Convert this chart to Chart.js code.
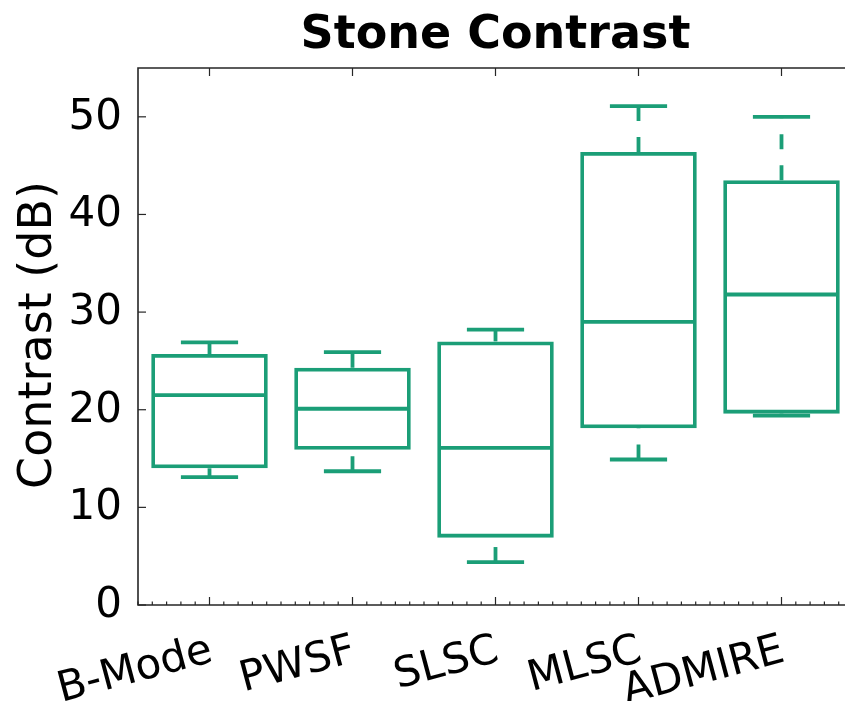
<!DOCTYPE html>
<html>
<head>
<meta charset="utf-8">
<script src="https://cdn.jsdelivr.net/npm/chart.js@4.4.0/dist/chart.umd.min.js"></script>
<style>
html, body { margin: 0; padding: 0; background: #fff; overflow: hidden; }
</style>
</head>
<body>
<canvas id="chartBox" width="860" height="701"></canvas>
<script>
// box plot values
const categories = ['B-Mode', 'PWSF', 'SLSC', 'MLSC', 'ADMIRE'];
const whiskerLow = [13.1, 13.7, 4.4, 14.9, 19.4];
const quart1 = [14.0, 15.9, 6.9, 18.1, 19.6];
const medians = [21.5, 20.1, 16.1, 29.0, 31.8];
const quart3 = [25.7, 24.3, 27.0, 46.4, 43.5];
const whiskerHigh = [26.9, 25.9, 28.2, 51.1, 50.0];
const yTicks = [0, 10, 20, 30, 40, 50];

const teal = '#1b9e77';
const axisColor = '#262626';

// medians, whiskers and caps on top of the floating bars
const boxExtras = {
    id: 'boxExtras',
    afterDatasetsDraw(chart) {
        const ctx = chart.ctx;
        const x = chart.scales.x;
        const y = chart.scales.y;
        const step = x.getPixelForValue(1) - x.getPixelForValue(0);
        ctx.save();
        ctx.strokeStyle = teal;
        ctx.lineWidth = 3.8;
        categories.forEach((c, i) => {
            const cx = x.getPixelForValue(i);
            // median
            ctx.setLineDash([]);
            ctx.beginPath();
            ctx.moveTo(cx - step * 0.4, y.getPixelForValue(medians[i]));
            ctx.lineTo(cx + step * 0.4, y.getPixelForValue(medians[i]));
            ctx.stroke();
            // caps
            [whiskerLow[i], whiskerHigh[i]].forEach(v => {
                ctx.beginPath();
                ctx.moveTo(cx - step * 0.2, y.getPixelForValue(v));
                ctx.lineTo(cx + step * 0.2, y.getPixelForValue(v));
                ctx.stroke();
            });
            // whiskers, dashed, drawn bottom to top
            ctx.setLineDash([15, 16]);
            ctx.beginPath();
            ctx.moveTo(cx, y.getPixelForValue(whiskerLow[i]));
            ctx.lineTo(cx, y.getPixelForValue(quart1[i]));
            ctx.stroke();
            ctx.beginPath();
            ctx.moveTo(cx, y.getPixelForValue(quart3[i]));
            ctx.lineTo(cx, y.getPixelForValue(whiskerHigh[i]));
            ctx.stroke();
        });
        ctx.restore();
    }
};

// frame, inward ticks, labels and title
const frameAndText = {
    id: 'frameAndText',
    afterDraw(chart) {
        const ctx = chart.ctx;
        const a = chart.chartArea;
        const x = chart.scales.x;
        const y = chart.scales.y;
        const step = x.getPixelForValue(1) - x.getPixelForValue(0);
        ctx.save();
        ctx.strokeStyle = axisColor;
        ctx.lineWidth = 1.6;
        ctx.beginPath();
        ctx.moveTo(a.right, a.top);
        ctx.lineTo(a.left, a.top);
        ctx.lineTo(a.left, a.bottom);
        ctx.lineTo(a.right, a.bottom);
        ctx.stroke();

        // x ticks
        ctx.lineWidth = 1.2;
        for (let k = -5; k <= 45; k++) {
            const px = x.getPixelForValue(0) + k * step / 10;
            const major = k % 10 === 0 && k >= 0;
            ctx.beginPath();
            ctx.moveTo(px, a.bottom);
            ctx.lineTo(px, a.bottom - (major ? 8 : 3.5));
            ctx.stroke();
            if (major) {
                ctx.beginPath();
                ctx.moveTo(px, a.top);
                ctx.lineTo(px, a.top + 8);
                ctx.stroke();
            }
        }
        // y ticks
        yTicks.forEach(v => {
            const py = y.getPixelForValue(v);
            ctx.beginPath();
            ctx.moveTo(a.left, py);
            ctx.lineTo(a.left + 8, py);
            ctx.stroke();
        });

        ctx.fillStyle = '#000';
        ctx.font = '42px "DejaVu Sans"';
        ctx.textAlign = 'right';
        ctx.textBaseline = 'middle';
        yTicks.forEach(v => {
            ctx.fillText(String(v), a.left - 16, y.getPixelForValue(v) + 1);
        });

        ctx.textBaseline = 'alphabetic';
        categories.forEach((c, i) => {
            ctx.save();
            ctx.translate(x.getPixelForValue(i) + 5, a.bottom + 56);
            ctx.rotate(-15 * Math.PI / 180);
            ctx.fillText(c, 0, 0);
            ctx.restore();
        });

        ctx.save();
        ctx.font = '46px "DejaVu Sans"';
        ctx.textAlign = 'center';
        ctx.translate(51, 335);
        ctx.rotate(-Math.PI / 2);
        ctx.fillText('Contrast (dB)', 0, 0);
        ctx.restore();

        ctx.font = 'bold 46px "DejaVu Sans"';
        ctx.textAlign = 'center';
        ctx.fillText('Stone Contrast', (a.left + a.right) / 2, 48);
        ctx.restore();
    }
};

const ctx = document.getElementById('chartBox').getContext('2d');
window.boxChart = new Chart(ctx, {
    type: 'bar',
    data: {
        labels: categories,
        datasets: [{
            label: 'Contrast',
            data: quart1.map((q, i) => [q, quart3[i]]),
            backgroundColor: 'rgba(0, 0, 0, 0)',
            borderColor: teal,
            borderWidth: 3.8,
            borderSkipped: false,
            barPercentage: 0.815,
            categoryPercentage: 1.0,
        }]
    },
    options: {
        responsive: false,
        animation: false,
        layout: {
            padding: { left: 138, right: 7, top: 68, bottom: 96 }
        },
        plugins: {
            legend: { display: false },
            tooltip: { enabled: false },
        },
        scales: {
            x: {
                display: false,
                offset: true,
            },
            y: {
                display: false,
                min: 0,
                max: 55,
            }
        }
    },
    plugins: [boxExtras, frameAndText]
});
</script>
</body>
</html>
